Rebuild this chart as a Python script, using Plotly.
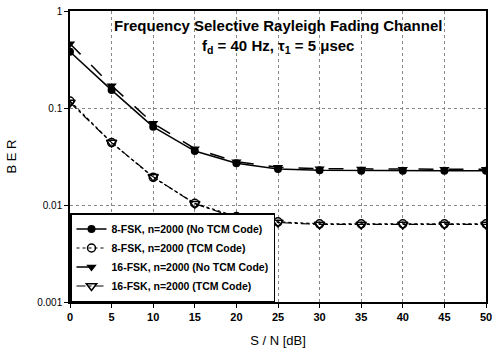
import plotly.graph_objects as go

snr = [0, 5, 10, 15, 20, 25, 30, 35, 40, 45, 50]
ber_8fsk_notcm = [0.38, 0.153, 0.064, 0.036, 0.027, 0.0235, 0.0228, 0.0226, 0.0225, 0.0225, 0.0225]
ber_8fsk_tcm = [0.118, 0.044, 0.0193, 0.0104, 0.0076, 0.0067, 0.0064, 0.0064, 0.0064, 0.0064, 0.0064]
ber_16fsk_notcm = [0.46, 0.17, 0.0695, 0.038, 0.028, 0.0245, 0.0237, 0.0235, 0.0234, 0.0234, 0.0234]
ber_16fsk_tcm = [0.114, 0.044, 0.0195, 0.0103, 0.0074, 0.0066, 0.0063, 0.0063, 0.0063, 0.0063, 0.0063]

names = ["8-FSK, n=2000 (No TCM Code)", "8-FSK, n=2000 (TCM Code)",
         "16-FSK, n=2000 (No TCM Code)", "16-FSK, n=2000 (TCM Code)"]
ytick_vals = [0.001, 0.01, 0.1, 1]
ytick_text = ["0.001", "0.01", "0.1", "1"]
xtick_vals = [0, 5, 10, 15, 20, 25, 30, 35, 40, 45, 50]

FONT = "Liberation Sans"

fig = go.Figure()
fig.add_trace(go.Scatter(x=snr, y=ber_8fsk_notcm, name=names[0], mode="lines+markers",
                         line=dict(color="black", width=1.5, dash="solid"),
                         marker=dict(symbol="circle", size=8, color="black")))
fig.add_trace(go.Scatter(x=snr, y=ber_8fsk_tcm, name=names[1], mode="lines+markers",
                         line=dict(color="black", width=1.2, dash="dot"),
                         marker=dict(symbol="circle-open", size=8, color="black", line=dict(width=1.5))))
fig.add_trace(go.Scatter(x=snr, y=ber_16fsk_notcm, name=names[2], mode="lines+markers",
                         line=dict(color="black", width=1.5, dash="longdash"),
                         marker=dict(symbol="triangle-down", size=9, color="black")))
fig.add_trace(go.Scatter(x=snr, y=ber_16fsk_tcm, name=names[3], mode="lines+markers",
                         line=dict(color="black", width=1.2, dash="dashdot"),
                         marker=dict(symbol="triangle-down-open", size=9, color="black", line=dict(width=1.5))))

fig.add_annotation(text="Frequency Selective Rayleigh Fading Channel<br>f<sub>d</sub> = 40 Hz, τ<sub>1</sub> = 5 μsec",
                   x=0.5, y=0.985, xref="paper", yref="paper", xanchor="center", yanchor="top",
                   showarrow=False, align="center",
                   font=dict(family=FONT, size=15, color="black", weight="bold"))

fig.update_layout(
    width=492, height=349,
    margin=dict(l=70, r=6, t=11, b=47),
    paper_bgcolor="white", plot_bgcolor="white",
    font=dict(family=FONT, color="black", size=11, weight="bold"),
    showlegend=True,
    legend=dict(x=0, y=0, xanchor="left", yanchor="bottom", bgcolor="white",
                bordercolor="black", borderwidth=1.5,
                font=dict(size=10.5, family=FONT, weight="bold"),
                tracegroupgap=0, itemwidth=30),
    xaxis=dict(range=[0, 50], tickvals=xtick_vals, showgrid=True, gridcolor="#888",
               griddash="dot", gridwidth=1, showline=True, linecolor="black", linewidth=1.5,
               mirror=True, ticks="outside", ticklen=4, tickcolor="black", automargin=False,
               ticklabeloverflow="allow",
               tickfont=dict(size=11, weight="bold"),
               title=dict(text="S / N [dB]", font=dict(size=13, weight="normal"), standoff=14), zeroline=False),
    yaxis=dict(type="log", range=[-3, 0], tickvals=ytick_vals, ticktext=ytick_text,
               showgrid=True, gridcolor="#888", griddash="dot", gridwidth=1,
               showline=True, linecolor="black", linewidth=1.5, mirror=True,
               ticks="outside", ticklen=4, tickcolor="black", automargin=False,
               ticklabeloverflow="allow",
               tickfont=dict(size=10, weight="normal"),
               title=dict(text="B E R", font=dict(size=13, weight="normal"), standoff=18), zeroline=False),
)

fig.write_html("out.html", config={"displayModeBar": False},
               post_script="document.body.style.margin='0';document.body.style.padding='0';")
